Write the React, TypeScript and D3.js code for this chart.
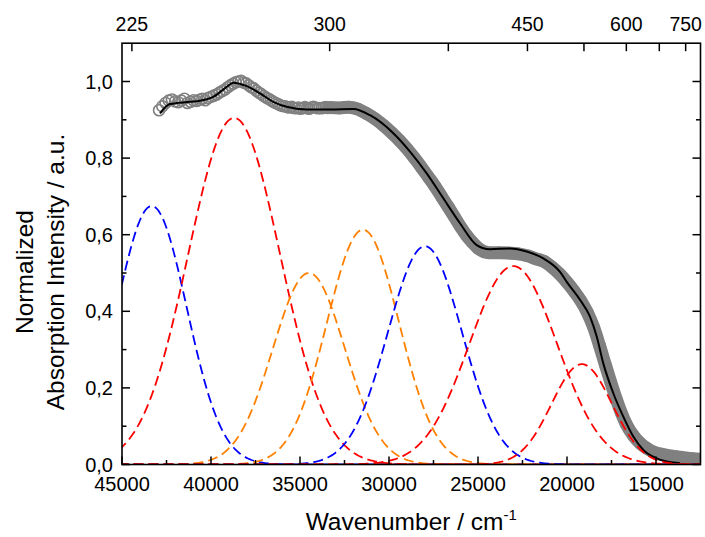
import React from 'react';
import * as d3 from 'd3';

const W = 705;
const H = 537;
const plotLeft = 122;
const plotRight = 700.5;
const plotTop = 43.2;
const plotBottom = 464.5;

// axes
const xDomain = [45000, 12500];
const yDomain = [0, 1.1];
const xMajorTicks = [45000, 40000, 35000, 30000, 25000, 20000, 15000];
const xMinorTicks = [42500, 37500, 32500, 27500, 22500, 17500];
const yMajorTicks = [0, 0.2, 0.4, 0.6, 0.8, 1.0];
const yMinorTicks = [0.1, 0.3, 0.5, 0.7, 0.9];
const topLabelNm = [225, 300, 450, 600, 750];
const topTickNm = [225, 300, 375, 450, 525, 600, 675, 750];

// measured spectrum (wavelength in nm, normalized absorbance)
const obsNm = [
  233, 234, 235, 236, 237, 238, 239, 240, 241, 242, 243, 244, 245, 246, 247, 248, 249, 250,
  251, 252, 253, 254, 255, 256, 257, 258, 259, 260, 261, 262, 263, 264, 265, 266, 267, 268, 269, 270,
  271, 272, 273, 274, 275, 276, 277, 278, 279, 280, 281, 282, 283, 284, 285, 286, 287, 288, 289, 290,
  291, 292, 293, 294, 295, 296, 297, 298, 299, 300,
  305, 310, 315, 320, 325, 330, 335, 340, 345, 350, 355, 360, 365, 370, 375, 380, 385, 390, 395, 400,
  410, 420, 430, 440, 450, 460, 470, 480, 490, 500, 510, 520, 530, 540, 550, 560, 570, 580, 590, 600,
  615, 630, 645, 660, 680, 700, 725, 750, 775, 800,
];
const obsValue = [
  0.925, 0.935, 0.944, 0.95, 0.953, 0.948, 0.946, 0.95, 0.955, 0.944, 0.947, 0.951, 0.949, 0.952, 0.955, 0.951, 0.957, 0.96,
  0.963, 0.966, 0.971, 0.975, 0.979, 0.985, 0.99, 0.994, 0.998, 1.0, 1.002, 0.997, 0.995, 0.99, 0.985, 0.982, 0.976, 0.971, 0.967, 0.962,
  0.958, 0.955, 0.951, 0.947, 0.944, 0.941, 0.938, 0.936, 0.935, 0.933, 0.932, 0.934, 0.931, 0.93, 0.932, 0.929, 0.931, 0.933, 0.93, 0.929,
  0.932, 0.934, 0.932, 0.93, 0.931, 0.93, 0.932, 0.933, 0.931, 0.932,
  0.931, 0.933, 0.928, 0.916, 0.902, 0.885, 0.866, 0.846, 0.824, 0.8, 0.775, 0.75, 0.725, 0.698, 0.672, 0.646, 0.62, 0.598, 0.58, 0.565,
  0.553, 0.553, 0.552, 0.55, 0.545, 0.537, 0.53, 0.515, 0.497, 0.476, 0.453, 0.428, 0.398, 0.36, 0.312, 0.262, 0.215, 0.172, 0.135, 0.105,
  0.075, 0.055, 0.042, 0.033, 0.027, 0.023, 0.02, 0.017, 0.015, 0.014,
];

// cumulative fit (wavenumber in cm-1, normalized absorbance)
const fitWavenumber = [
  42865, 42303, 41180, 40618, 39871, 39118, 38747, 37994, 37247, 36500, 35747, 34623, 33315, 32005, 31067,
  29758, 28820, 27882, 26949, 26011, 25073, 24326, 23202, 22264, 21331, 20393, 20017, 19270, 18708, 18331,
  17961, 17399, 16837, 16275, 15713, 14961, 14045, 13652,
];
const fitValue = [
  0.917, 0.941, 0.947, 0.95, 0.96, 0.986, 0.997, 0.988, 0.969, 0.947, 0.934, 0.927, 0.927, 0.928, 0.912,
  0.865, 0.817, 0.76, 0.695, 0.63, 0.573, 0.562, 0.564, 0.556, 0.538, 0.503, 0.477, 0.43, 0.386, 0.334,
  0.264, 0.186, 0.125, 0.073, 0.038, 0.016, 0.005, 0.003,
];

// Gaussian components (center cm-1, height, sigma cm-1)
const compCenter = [43330, 38700, 34500, 31460, 27980, 23020, 19170];
const compHeight = [0.675, 0.905, 0.5, 0.613, 0.57, 0.518, 0.262];
const compSigma = [1970, 2580, 2020, 2020, 2080, 2470, 1690];
const compColor = ['#0000ff', '#ff0000', '#ff8000', '#ff8000', '#0000ff', '#ff0000', '#ff0000'];

const FONT = '"Liberation Sans", Arial, Helvetica, sans-serif';

export default function App() {
  const x = d3.scaleLinear().domain(xDomain).range([plotLeft, plotRight]);
  const y = d3.scaleLinear().domain(yDomain).range([plotBottom, plotTop]);

  const obs = obsNm.map((nm, i) => ({ w: 1e7 / nm, v: obsValue[i] }));
  const band = obs.filter((d, i) => obsNm[i] >= 300);
  const fit = fitWavenumber.map((w, i) => ({ w, v: fitValue[i] }));

  const line = d3
    .line<{ w: number; v: number }>()
    .x((d) => x(d.w))
    .y((d) => y(d.v))
    .curve(d3.curveMonotoneX);

  const grid = d3.range(45200, 12300, -80);
  const compPaths = compCenter.map((c, k) => {
    const pts = grid.map((w) => ({
      w,
      v: compHeight[k] * Math.exp(-((w - c) * (w - c)) / (2 * compSigma[k] * compSigma[k])),
    }));
    return d3
      .line<{ w: number; v: number }>()
      .x((d) => x(d.w))
      .y((d) => y(d.v))(pts) as string;
  });

  const fmt = (v: number) => d3.format('.1f')(v).replace('.', ',');
  const major = 8;
  const minor = 4.5;
  const tickStroke = 1.5;

  return (
    <svg
      width={W}
      height={H}
      style={{ position: 'absolute', left: 0, top: 0, background: '#fff' }}
      fontFamily={FONT}
    >
      <defs>
        <clipPath id="plotclip">
          <rect x={plotLeft} y={plotTop} width={plotRight - plotLeft} height={plotBottom - plotTop} />
        </clipPath>
      </defs>
      <rect x={0} y={0} width={W} height={H} fill="#fff" />

      <g clipPath="url(#plotclip)">
        {/* data band */}
        <path
          d={line(band) as string}
          fill="none"
          stroke="#808080"
          strokeWidth={13}
          strokeLinecap="round"
          strokeLinejoin="round"
        />
        {obs.map((d, i) => (
          <circle key={i} cx={x(d.w)} cy={y(d.v)} r={5.5} fill="none" stroke="#808080" strokeWidth={1.6} />
        ))}
        {/* fit */}
        <path d={line(fit) as string} fill="none" stroke="#000" strokeWidth={2} />
        {/* components */}
        {compPaths.map((p, k) => (
          <path key={k} d={p} fill="none" stroke={compColor[k]} strokeWidth={1.8} strokeDasharray="10,5" />
        ))}
      </g>

      {/* frame */}
      <rect
        x={plotLeft}
        y={plotTop}
        width={plotRight - plotLeft}
        height={plotBottom - plotTop}
        fill="none"
        stroke="#000"
        strokeWidth={1.6}
      />

      {/* bottom ticks */}
      {xMajorTicks.map((t) => (
        <g key={'xM' + t}>
          <line x1={x(t)} x2={x(t)} y1={plotBottom} y2={plotBottom - major} stroke="#000" strokeWidth={tickStroke} />
          <text x={x(t)} y={491} fontSize={20} textAnchor="middle">
            {t}
          </text>
        </g>
      ))}
      {xMinorTicks.map((t) => (
        <line key={'xm' + t} x1={x(t)} x2={x(t)} y1={plotBottom} y2={plotBottom - minor} stroke="#000" strokeWidth={tickStroke} />
      ))}

      {/* top ticks (wavelength) */}
      {topTickNm.map((nm) => (
        <line
          key={'tn' + nm}
          x1={x(1e7 / nm)}
          x2={x(1e7 / nm)}
          y1={plotTop}
          y2={plotTop + major}
          stroke="#000"
          strokeWidth={tickStroke}
        />
      ))}
      {topLabelNm.map((nm) => (
        <text key={'tl' + nm} x={x(1e7 / nm)} y={30.5} fontSize={19.5} textAnchor="middle">
          {nm}
        </text>
      ))}

      {/* left / right ticks */}
      {yMajorTicks.map((t) => (
        <g key={'yM' + t}>
          <line x1={plotLeft} x2={plotLeft + major} y1={y(t)} y2={y(t)} stroke="#000" strokeWidth={tickStroke} />
          <line x1={plotRight} x2={plotRight - major} y1={y(t)} y2={y(t)} stroke="#000" strokeWidth={tickStroke} />
          <text x={113} y={y(t) + 7} fontSize={20} textAnchor="end">
            {fmt(t)}
          </text>
        </g>
      ))}
      {yMinorTicks.map((t) => (
        <g key={'ym' + t}>
          <line x1={plotLeft} x2={plotLeft + minor} y1={y(t)} y2={y(t)} stroke="#000" strokeWidth={tickStroke} />
          <line x1={plotRight} x2={plotRight - minor} y1={y(t)} y2={y(t)} stroke="#000" strokeWidth={tickStroke} />
        </g>
      ))}

      {/* axis titles */}
      <text x={(plotLeft + plotRight) / 2} y={530} fontSize={24.5} textAnchor="middle">
        Wavenumber / cm
        <tspan dy={-10} fontSize={15}>
          -1
        </tspan>
      </text>
      <g transform="translate(33,272) rotate(-90)">
        <text x={0} y={0} fontSize={24.5} textAnchor="middle">
          Normalized
        </text>
      </g>
      <g transform="translate(64,272) rotate(-90)">
        <text x={0} y={0} fontSize={24.5} textAnchor="middle">
          Absorption Intensity / a.u.
        </text>
      </g>
    </svg>
  );
}
